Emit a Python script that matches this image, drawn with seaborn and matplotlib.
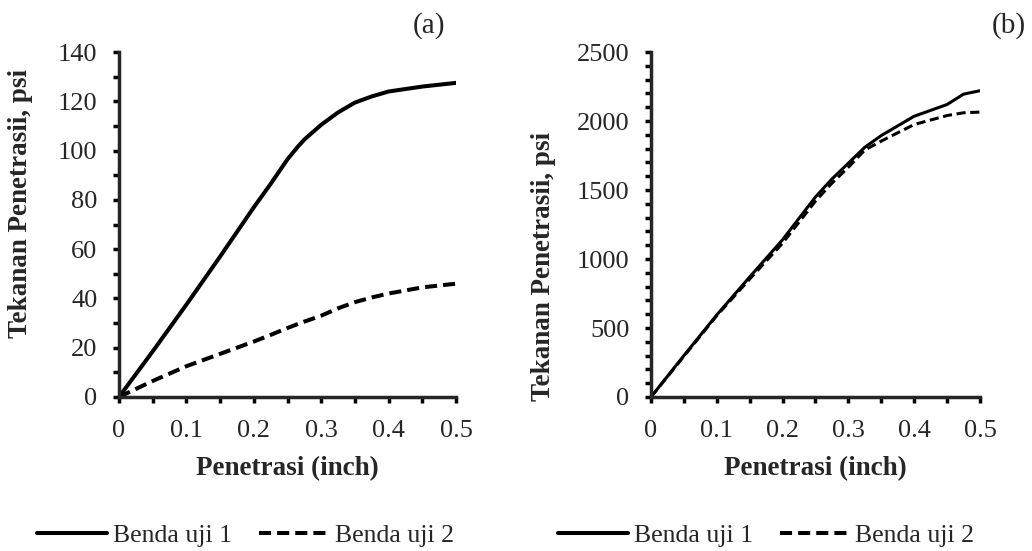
import matplotlib
matplotlib.use('Agg')
import matplotlib.pyplot as plt
from matplotlib.ticker import MultipleLocator
import numpy as np
import pandas as pd
import seaborn as sns

# Data
penetrasi = [0, 0.05, 0.1, 0.15, 0.2, 0.225, 0.25, 0.265, 0.275, 0.3, 0.325,
             0.35, 0.375, 0.4, 0.45, 0.5]
tekanan_a1 = [0, 18.5, 37.5, 57, 77, 86.5, 96.5, 101.5, 104.5, 110.5, 115.5,
              119.5, 122, 124, 126, 127.5]
tekanan_a2 = [0, 6.5, 12.5, 17.5, 22.5, 25.2, 28, 29.6, 30.6, 33, 36,
              38.5, 40.4, 42, 44.5, 46]

penetrasi_b = [0, 0.05, 0.1, 0.15, 0.2, 0.25, 0.275, 0.3, 0.325, 0.35, 0.4, 0.45, 0.475, 0.5]
tekanan_b1 = [0, 300, 595, 870, 1140, 1450, 1580, 1695, 1810, 1895, 2035, 2120, 2195, 2220]
tekanan_b2 = [0, 295, 590, 855, 1115, 1420, 1550, 1665, 1790, 1855, 1975, 2040, 2060, 2065]

series_names = ['Benda uji 1', 'Benda uji 2']


def long_table(x, ys):
    rows = []
    for name, y in zip(series_names, ys):
        rows.append(pd.DataFrame({'Penetrasi': x, 'Tekanan': y, 'Benda': name}))
    return pd.concat(rows, ignore_index=True)


df_a = long_table(penetrasi, [tekanan_a1, tekanan_a2])
df_b = long_table(penetrasi_b, [tekanan_b1, tekanan_b2])

sns.set_style('white')
plt.rcParams['font.family'] = ['Liberation Serif', 'DejaVu Serif']
plt.rcParams['axes.linewidth'] = 2.5

fig = plt.figure(figsize=(10.32, 5.51), dpi=100)
ax_a = fig.add_axes([0.1153, 0.2795, 0.3266, 0.626])
ax_b = fig.add_axes([0.6308, 0.2795, 0.3188, 0.626])

dashes = {'Benda uji 1': '', 'Benda uji 2': (3.0, 1.5)}

sns.lineplot(data=df_a, x='Penetrasi', y='Tekanan', style='Benda', dashes=dashes,
             color='black', linewidth=2.9, ax=ax_a, legend=True)
sns.lineplot(data=df_b, x='Penetrasi', y='Tekanan', style='Benda', dashes=dashes,
             color='black', linewidth=2.2, ax=ax_b, legend=True)

# per panel: y max, major, minor step, tag x, ylabel x/y, legend left x
panels = [
    (ax_a, 140, 20, 10, '(a)', 0.967, -0.255, 0.561, -0.243),
    (ax_b, 2500, 500, 100, '(b)', 1.14, -0.289, 0.378, -0.283),
]
for ax, top, major, minor, tag, tagx, ylx, yly, legx in panels:
    ax.set_xlim(0, 0.5)
    ax.set_ylim(0, top)
    ax.xaxis.set_major_locator(MultipleLocator(0.1))
    ax.xaxis.set_minor_locator(MultipleLocator(0.05))
    ax.yaxis.set_major_locator(MultipleLocator(major))
    ax.yaxis.set_minor_locator(MultipleLocator(minor))
    ax.xaxis.set_major_formatter(plt.FuncFormatter(lambda v, p: '0' if v == 0 else f'{v:.1f}'))
    for s in ['top', 'right']:
        ax.spines[s].set_visible(False)
    ax.tick_params(which='both', direction='out', color='black', width=2.5,
                   labelsize=19, left=True, bottom=True)
    ax.tick_params(which='major', length=4.5)
    ax.tick_params(which='minor', length=4)
    ax.tick_params(axis='y', which='major', pad=11)
    ax.tick_params(axis='x', which='major', pad=12)
    ax.set_xlabel('Penetrasi (inch)', fontsize=19.5, fontweight='bold', va='top')
    ax.xaxis.set_label_coords(0.5, -0.172)
    ax.set_ylabel('Tekanan Penetrasii, psi', fontsize=19.5, fontweight='bold')
    ax.yaxis.set_label_coords(ylx, yly)
    ax.text(tagx, 1.116, tag, transform=ax.transAxes, fontsize=21, ha='right', va='top')
    handles, labels = ax.get_legend_handles_labels()
    ax.get_legend().remove()
    for h in handles:
        h.set_color('black')
        h.set_linewidth(2.9)
    ax.legend(handles, labels, loc='center left', bbox_to_anchor=(legx, -0.401), ncol=2,
              frameon=False, fontsize=18.5, handlelength=2.72, handletextpad=0.23,
              columnspacing=1.05, borderpad=0, borderaxespad=0)

fig.savefig('out.png', dpi=100)
